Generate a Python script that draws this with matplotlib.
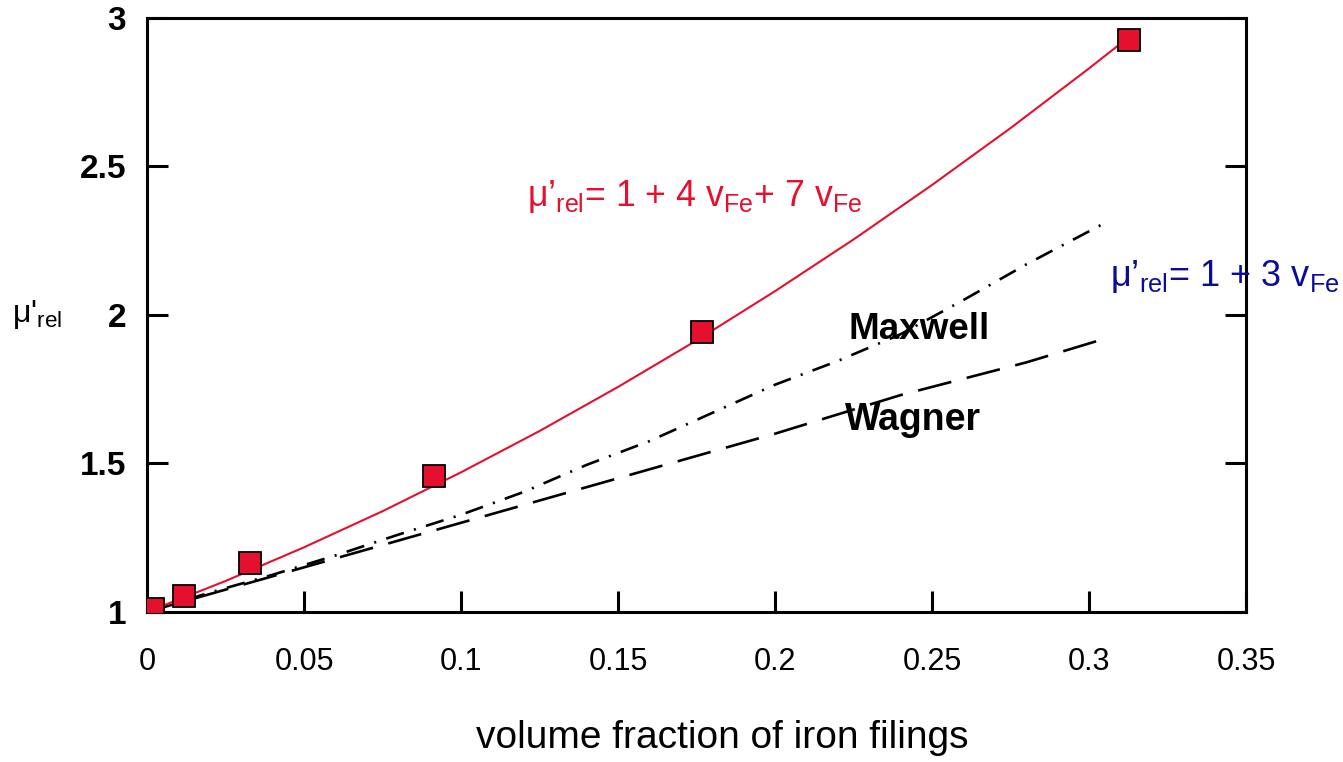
import matplotlib
matplotlib.use("Agg")
import matplotlib.pyplot as plt

plt.rcParams["font.family"] = ["Liberation Sans", "DejaVu Sans"]
plt.rcParams["mathtext.fontset"] = "custom"
plt.rcParams["mathtext.rm"] = "Liberation Sans"
plt.rcParams["mathtext.it"] = "Liberation Sans:italic"

# measured permeability vs. volume fraction of iron filings
v_meas = [0.002, 0.0119, 0.0328, 0.0914, 0.1767, 0.3127]
mu_meas = [1.01, 1.053, 1.163, 1.456, 1.943, 2.926]

# fitted curve 1 + 4 v + 7 v^2
v_fit = [0.0, 0.025, 0.05, 0.075, 0.1, 0.125, 0.15, 0.175, 0.2, 0.225,
         0.25, 0.275, 0.3, 0.3125]
mu_fit = [1.0, 1.104, 1.2175, 1.339, 1.47, 1.609, 1.7575, 1.914, 2.08,
          2.254, 2.4375, 2.629, 2.83, 2.934]

# mixing-rule predictions
v_model = [0.0, 0.02, 0.04, 0.06, 0.08, 0.10, 0.12, 0.14, 0.16, 0.18,
           0.20, 0.22, 0.24, 0.26, 0.28, 0.306]
mu_maxwell = [1.0, 1.065, 1.125, 1.19, 1.26, 1.327, 1.404, 1.495, 1.575,
              1.67, 1.765, 1.845, 1.935, 2.05, 2.17, 2.315]
mu_wagner = [1.0, 1.06, 1.12, 1.18, 1.24, 1.30, 1.36, 1.42, 1.48, 1.54,
             1.60, 1.665, 1.73, 1.785, 1.84, 1.923]

xticks = [0, 0.05, 0.1, 0.15, 0.2, 0.25, 0.3, 0.35]
xticklabels = ["0", "0.05", "0.1", "0.15", "0.2", "0.25", "0.3", "0.35"]
yticks = [1, 1.5, 2, 2.5, 3]
yticklabels = ["1", "1.5", "2", "2.5", "3"]

red = "#e4102e"
blue = "#0c0c9c"

fig = plt.figure(figsize=(13.43, 7.62), dpi=100)
ax = fig.add_axes([0.1095, 0.197, 0.8183, 0.7795])

ax.plot(v_fit, mu_fit, color=red, lw=1.5, zorder=3)
ax.plot(v_meas, mu_meas, ls="none", marker="s", ms=16.5, mfc=red,
        mec="black", mew=1.3, zorder=4)
ax.plot(v_model, mu_maxwell, color="black", lw=1.9,
        dashes=(7, 4, 0.8, 4), zorder=2)
ax.plot(v_model, mu_wagner, color="black", lw=1.9,
        dashes=(13, 6), zorder=2)

ax.set_xlim(0, 0.35)
ax.set_ylim(1, 3)
ax.set_xticks(xticks)
ax.set_xticklabels(xticklabels, fontsize=22)
ax.set_yticks(yticks)
ax.set_yticklabels(yticklabels, fontsize=24, fontweight="bold")
ax.tick_params(direction="in", length=15, width=2.2, right=True)
ax.tick_params(axis="x", pad=25)
ax.tick_params(axis="y", pad=15)
for s in ax.spines.values():
    s.set_linewidth(2.2)

ax.set_xlabel("volume fraction of iron filings", fontsize=28)
ax.xaxis.set_label_coords(0.523, -0.182)
ax.set_ylabel("μ'$_{\\rm rel}$", fontsize=23, rotation=0, va="center")
ax.yaxis.set_label_coords(-0.1, 0.5)

ax.text(0.121, 2.40, r"μ’$_{\rm rel}$= 1 + 4 v$_{\rm Fe}$+ 7 v$_{\rm Fe}$",
        color=red, fontsize=25.7, va="center", ha="left")
ax.text(0.3067, 2.13, r"μ’$_{\rm rel}$= 1 + 3 v$_{\rm Fe}$",
        color=blue, fontsize=26, va="center", ha="left", clip_on=False)
ax.text(0.2233, 1.95, "Maxwell", fontsize=26.5, fontweight="bold",
        va="center", ha="left")
ax.text(0.2223, 1.645, "Wagner", fontsize=27, fontweight="bold",
        va="center", ha="left")

fig.savefig("out.png", dpi=100)
